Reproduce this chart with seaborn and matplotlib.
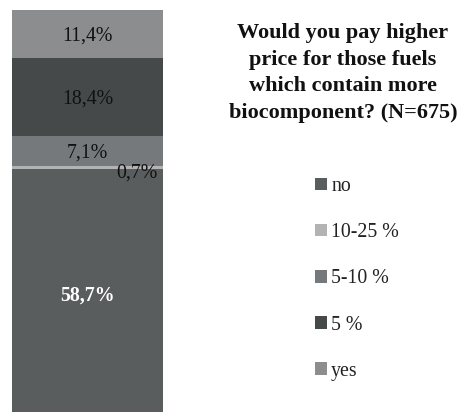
import matplotlib
matplotlib.use("Agg")
import matplotlib.pyplot as plt
from matplotlib.patches import Patch
import pandas as pd
import seaborn as sns

# Survey answers, stacked from the bottom of the bar upwards
answers = ["no", "10-25 %", "5-10 %", "5 %", "yes"]
shares = [58.7, 0.7, 7.1, 18.4, 11.4]
share_labels = ["58,7%", "0,7%", "7,1%", "18,4%", "11,4%"]
colors = ["#595d5e", "#b3b3b3", "#76797b", "#45494a", "#8b8d8f"]
title = "Would you pay higher\nprice for those fuels\nwhich contain more\nbiocomponent? (N=675)"

df = pd.DataFrame({"group": [0] * len(answers), "answer": answers, "share": shares})

sns.set_theme(style="white")
plt.rcParams["font.family"] = ["Liberation Serif", "DejaVu Serif"]

W, H = 473, 412
fig = plt.figure(figsize=(W / 100, H / 100), dpi=100)
fig.patch.set_facecolor("white")

# bar area in pixels: x 12..163, top at y=10, runs a little past the bottom edge
total = sum(shares)
px_per = 4.24
bar_top, bar_left, bar_right = 10, 11.7, 163.3
bar_h = total * px_per
ax = fig.add_axes([bar_left / W, (H - bar_top - bar_h) / H,
                   (bar_right - bar_left) / W, bar_h / H])

sns.histplot(data=df, x="group", weights="share", hue="answer",
             hue_order=answers[::-1], palette=dict(zip(answers, colors)),
             multiple="stack", discrete=True, shrink=1.0, linewidth=0,
             alpha=1, legend=False, ax=ax)

ax.set_xlim(-0.5, 0.5)
ax.set_ylim(0, total)
ax.set_axis_off()

# value labels
bottom = 0
for ans, val, lab in zip(answers, shares, share_labels):
    mid = bottom + val / 2
    if ans == "no":
        ax.text(0, mid - 0.4, lab, ha="center", va="center", fontsize=14.3,
                color="white", fontweight="bold")
    elif ans == "10-25 %":
        ax.text(0.323, mid - 1.15, lab, ha="center", va="center", fontsize=14.3,
                color="#111111", clip_on=False)
    else:
        ax.text(0, mid - 0.35, lab, ha="center", va="center", fontsize=14.3,
                color="#111111")
    bottom += val

fig.text(343 / W, 1 - 73 / H, title, ha="center", va="center", fontsize=16,
         fontweight="bold", color="#111111", linespacing=1.46)

handles = [Patch(facecolor=c, edgecolor="none") for c in colors]
leg = fig.legend(handles, answers, loc="upper left",
                 bbox_to_anchor=(297 / W, 1 - 159 / H), frameon=False,
                 fontsize=14.3, handlelength=0.6, handleheight=0.6,
                 handletextpad=0.22, labelspacing=1.37)
for t in leg.get_texts():
    t.set_color("#222222")

fig.savefig("out.png", dpi=100, facecolor="white")
